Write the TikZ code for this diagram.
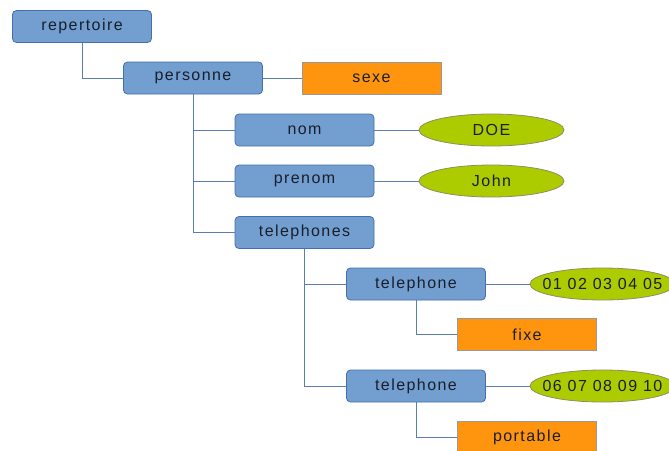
\documentclass[tikz,border=0pt]{standalone}
\usepackage{fontspec}
\setmainfont{Liberation Sans}[LetterSpace=9]
\usepackage{tikz}
\usetikzlibrary{shapes.geometric}

\definecolor{boxblue}{RGB}{114,159,207}
\definecolor{boxedge}{RGB}{70,110,170}
\definecolor{wireblue}{RGB}{90,125,180}
\definecolor{attrorange}{RGB}{255,149,14}
\definecolor{valgreen}{RGB}{172,204,0}
\definecolor{txtdark}{RGB}{25,30,45}

\tikzset{
  elembox/.style={shape=rectangle, rounded corners=4pt, draw=boxedge, fill=boxblue, line width=0.8pt, minimum width=139pt, minimum height=32pt, text=txtdark, inner sep=0pt},
  attrbox/.style={shape=rectangle, draw=gray!80, fill=attrorange, line width=0.8pt, minimum width=139pt, minimum height=32pt, text=txtdark, inner sep=0pt},
  valell/.style={shape=ellipse, draw=gray!70!olive, fill=valgreen, line width=0.8pt, minimum width=145pt, minimum height=32pt, text=txtdark, inner sep=0pt},
  wire/.style={draw=wireblue, line width=0.9pt}
}

\begin{document}
\begin{tikzpicture}[x=1pt, y=-1pt, font=\fontsize{16}{19}\selectfont]
			\useasboundingbox (0, 0) rectangle (669, 450);
			\clip (0, 0) rectangle (669, 450);
			% Paths, nodes and wires:
			\node[elembox](rep) at (82, 26.5){repertoire};
			\node[elembox](pers) at (193, 78){personne};
			\node[attrbox](sexe) at (371.5, 78){sexe};
			\node[elembox](nom) at (304.5, 130){nom};
			\node[valell](doe) at (491.5, 130){DOE};
			\node[elembox](pren) at (304.5, 181){prenom};
			\node[valell](john) at (491.5, 181){John};
			\node[elembox](tels) at (304.5, 232.5){telephones};
			\node[elembox](tela) at (416, 284){telephone};
			\node[valell](numa) at (602.5, 284){\makebox[0pt]{01 02 03 04 05}};
			\node[attrbox](fixe) at (527, 334.5){fixe};
			\node[elembox](telb) at (416, 386){telephone};
			\node[valell](numb) at (602.5, 386){\makebox[0pt]{06 07 08 09 10}};
			\node[attrbox](port) at (527, 437){portable};
			\draw[wire] (rep.south) |- (pers.west);
			\draw[wire] (pers.east) -- (sexe.west);
			\draw[wire] (pers.south) |- (nom.west);
			\draw[wire] (pers.south) |- (pren.west);
			\draw[wire] (pers.south) |- (tels.west);
			\draw[wire] (nom.east) -- (doe.west);
			\draw[wire] (pren.east) -- (john.west);
			\draw[wire] (tels.south) |- (tela.west);
			\draw[wire] (tels.south) |- (telb.west);
			\draw[wire] (tela.east) -- (numa.west);
			\draw[wire] (telb.east) -- (numb.west);
			\draw[wire] (tela.south) |- (fixe.west);
			\draw[wire] (telb.south) |- (port.west);
		\end{tikzpicture}
\end{document}
